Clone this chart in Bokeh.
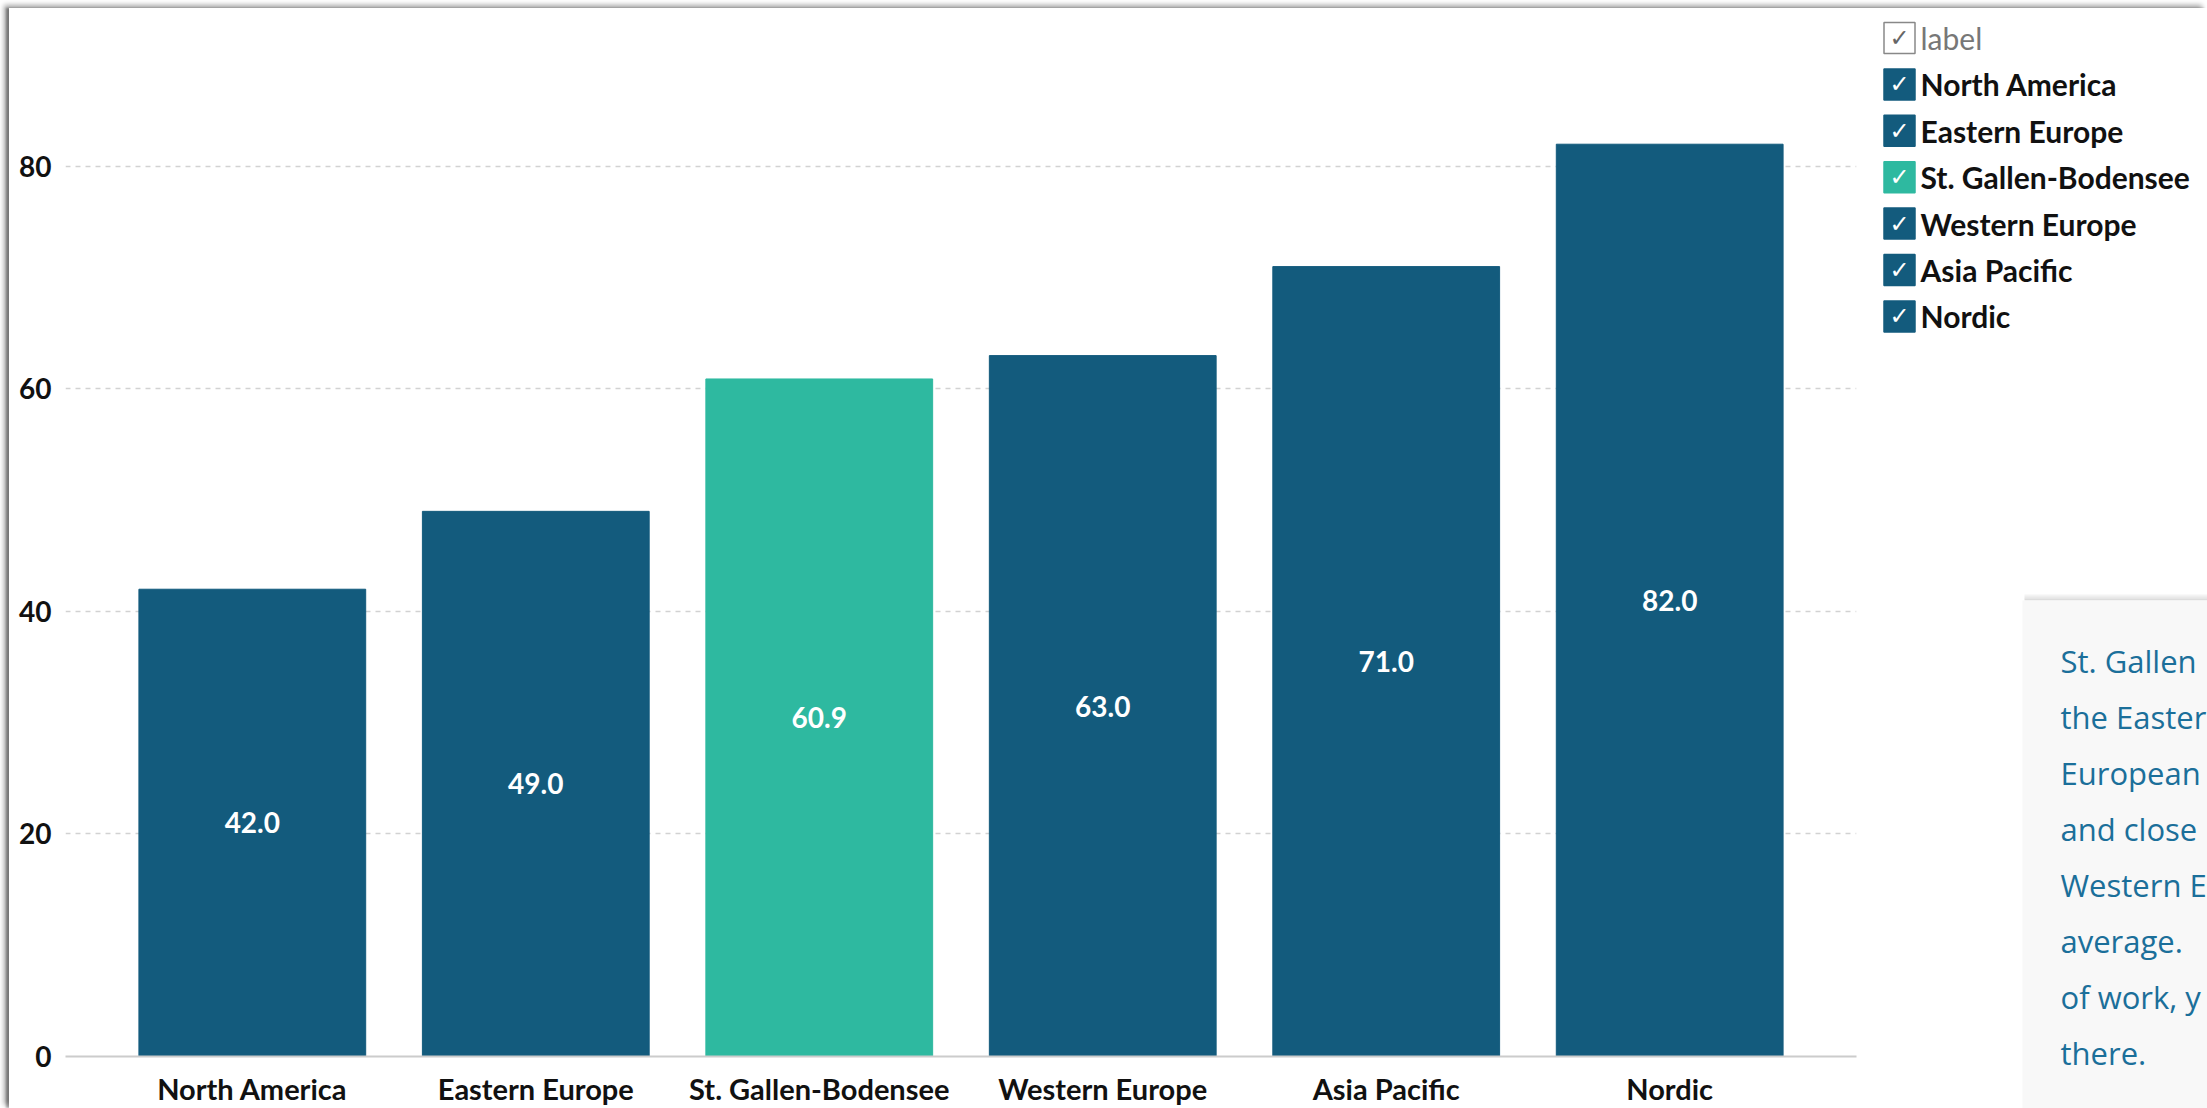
from bokeh.plotting import figure
from bokeh.layouts import row, column
from bokeh.models import ColumnDataSource, FactorRange, Range1d, FixedTicker
from bokeh.core.properties import value
from bokeh.embed import file_html
from bokeh.resources import INLINE

# ---- data ----
regions = ["North America", "Eastern Europe", "St. Gallen-Bodensee",
           "Western Europe", "Asia Pacific", "Nordic"]
scores = [42.0, 49.0, 60.9, 63.0, 71.0, 82.0]
highlight = "St. Gallen-Bodensee"
y_ticks = [0, 20, 40, 60, 80]
legend_header = "label"
note_lines = ["St. Gallen", "the Easter", "European", "and close",
              "Western E", "average.", "of work, y", "there."]

DARK = "#135b7d"
TEAL = "#2eb9a0"
colors = [TEAL if r == highlight else DARK for r in regions]
labels = [f"{v:.1f}" for v in scores]
mids = [v / 2 for v in scores]

src = ColumnDataSource(dict(x=regions, top=scores, color=colors, label=labels, mid=mids))

# ---- main chart ----
p = figure(x_range=FactorRange(factors=regions, range_padding=0.159,
                               range_padding_units="absolute"),
           y_range=Range1d(0, 93.3), width=1861, height=1100,
           output_backend="svg", toolbar_location=None,
           min_border_left=56, min_border_right=14,
           min_border_top=10, min_border_bottom=50)
p.vbar(x="x", top="top", width=0.8, color="color", source=src)
p.text(x="x", y="mid", text="label", source=src, text_align="center",
       text_baseline="middle", text_color="white", text_font=value("Lato"),
       text_font_style="bold", text_font_size="28px")

p.outline_line_color = None
p.xgrid.grid_line_color = None
p.ygrid.ticker = FixedTicker(ticks=y_ticks)
p.ygrid.grid_line_color = "#d2d2d2"
p.ygrid.grid_line_dash = "5 5"
p.ygrid.grid_line_width = 1.5

p.xaxis.axis_line_color = "#cccccc"
p.xaxis.axis_line_width = 2
p.xaxis.major_tick_line_color = None
p.xaxis.minor_tick_line_color = None
p.xaxis.major_tick_out = 0
p.xaxis.major_tick_in = 0
p.xaxis.minor_tick_out = 0
p.xaxis.major_label_standoff = 14
p.xaxis.major_label_text_font = "Lato"
p.xaxis.major_label_text_font_style = "bold"
p.xaxis.major_label_text_font_size = "29px"
p.xaxis.major_label_text_color = "#111111"

p.yaxis.ticker = FixedTicker(ticks=y_ticks)
p.yaxis.axis_line_color = None
p.yaxis.major_tick_line_color = None
p.yaxis.minor_tick_line_color = None
p.yaxis.major_tick_out = 0
p.yaxis.major_tick_in = 0
p.yaxis.minor_tick_out = 0
p.yaxis.major_label_standoff = 14
p.yaxis.major_label_text_font = "Lato"
p.yaxis.major_label_text_font_style = "bold"
p.yaxis.major_label_text_font_size = "28px"
p.yaxis.major_label_text_color = "#111111"

# ---- side panel: legend + note ----
SW, SH = 337, 1100
s = figure(width=SW, height=SH, x_range=Range1d(0, SW), y_range=Range1d(SH, 0),
           x_axis_type=None, y_axis_type=None,
           output_backend="svg", toolbar_location=None,
           min_border_left=0, min_border_right=0, min_border_top=0, min_border_bottom=0)
s.grid.visible = False
s.outline_line_color = None

items = [legend_header] + regions
step = 46.4
ys = [29.5 + step * i for i in range(len(items))]
box_fill = ["white"] + colors
box_line = ["#888888"] + colors
check_col = ["#666666"] + ["white"] * len(regions)
txt_col = ["#777777"] + ["#111111"] * len(regions)
txt_style = ["normal"] + ["bold"] * len(regions)
xs_box = [29] * len(items)
xs_txt = [50] * len(items)
leg = ColumnDataSource(dict(xb=xs_box, xt=xs_txt, y=ys, fill=box_fill, line=box_line,
                            chk=["\u2713"] * len(items), cc=check_col, t=items,
                            tc=txt_col, ts=txt_style))
s.rect(x="xb", y="y", width=31, height=31, fill_color="fill", line_color="line",
       line_width=1.5, source=leg)
s.text(x="xb", y="y", text="chk", text_color="cc", text_align="center",
       text_baseline="middle", text_font=value("DejaVu Sans"), text_font_style="bold",
       text_font_size="24px", source=leg)
s.text(x="xt", y="y", text="t", text_color="tc", text_font_style="ts",
       text_align="left", text_baseline="middle", text_font=value("Lato"),
       text_font_size="30px", source=leg)

# note box (with a soft shadow above it)
for k, a in enumerate([0.12, 0.22, 0.35]):
    s.quad(left=[154], right=[SW], top=[586 + 2 * k], bottom=[588 + 2 * k],
           fill_color="#9a9a9a", fill_alpha=a, line_color=None)
s.quad(left=[152], right=[SW], top=[592], bottom=[SH], fill_color="#f8f8f8",
       line_color=None)
note = ColumnDataSource(dict(x=[190] * len(note_lines),
                             y=[652 + 56.1 * i for i in range(len(note_lines))],
                             t=note_lines))
s.text(x="x", y="y", text="t", source=note, text_color="#1b6f9a",
       text_font=value("Open Sans"), text_font_size="31px",
       text_baseline="middle", text_align="left")

layout = row(p, column(s), margin=(8, 0, 0, 9),
             styles={"box-shadow": "-5px -3px 5px rgba(0,0,0,0.35), -3px 0px 2px rgba(0,0,0,0.3)"})

open("out.html", "w").write(file_html(layout, INLINE))
